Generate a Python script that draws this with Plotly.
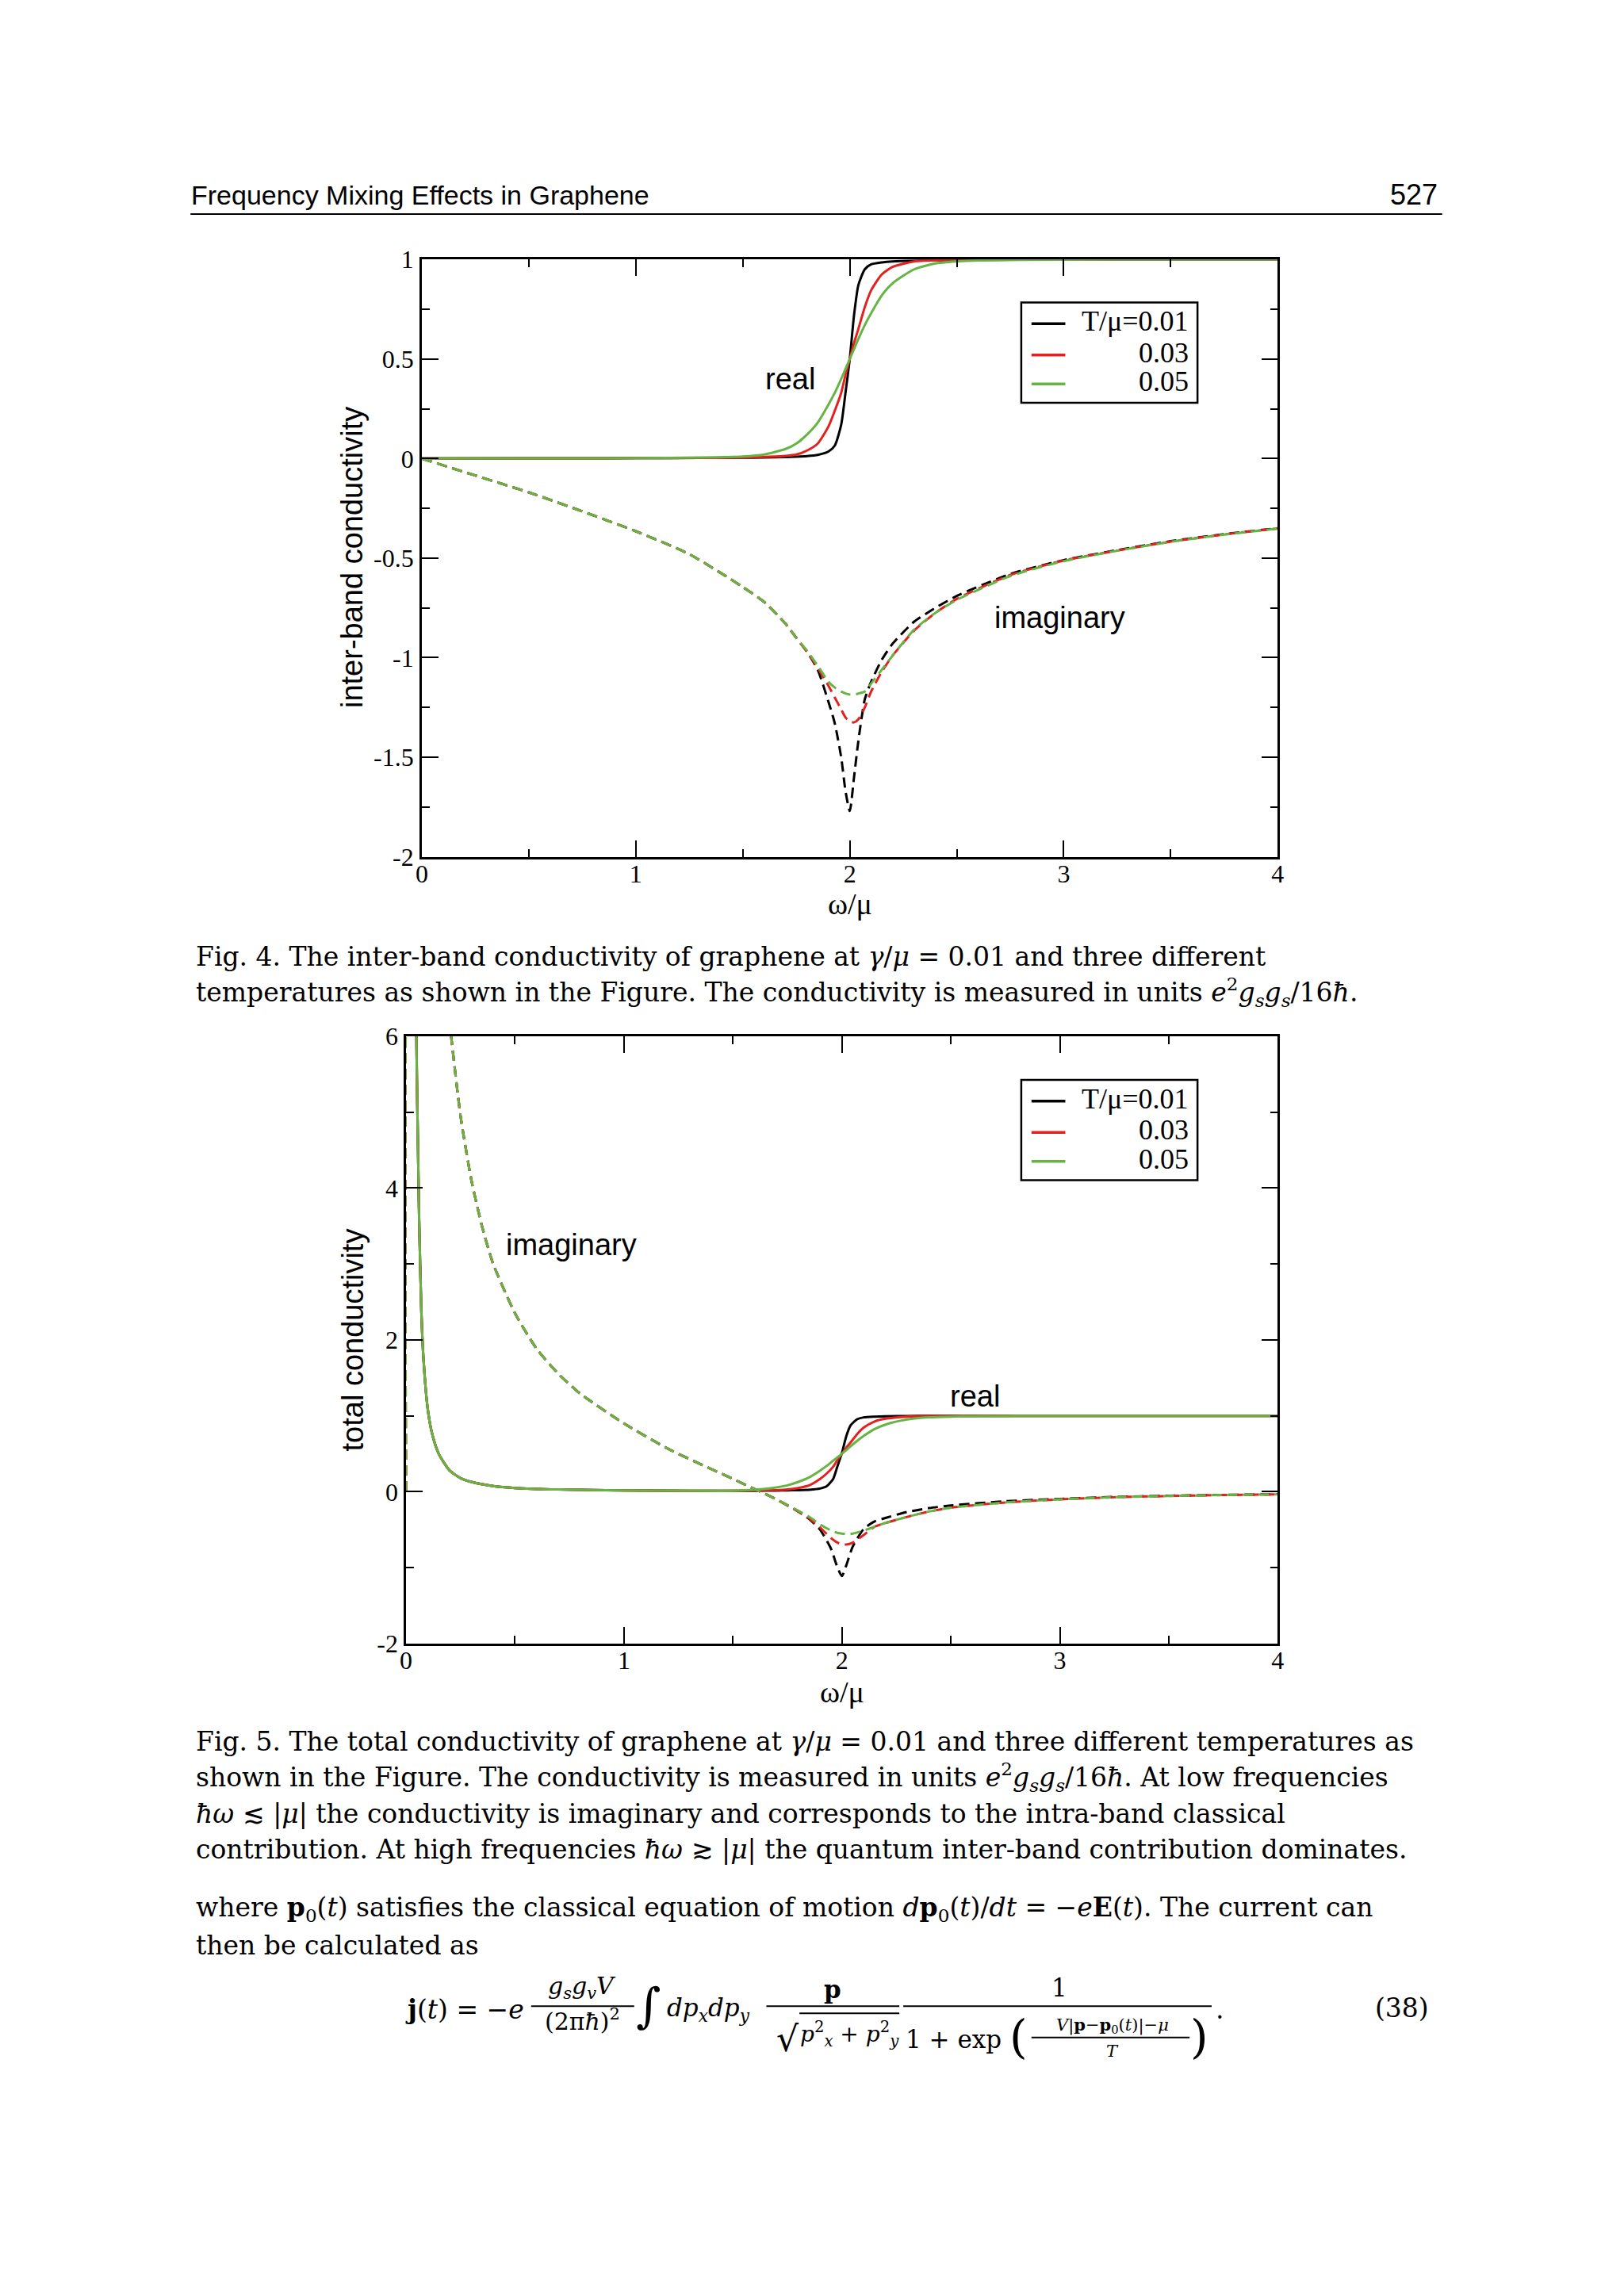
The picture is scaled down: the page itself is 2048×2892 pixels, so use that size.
import plotly.graph_objects as go

w_re = [0.0, 0.5, 1.0, 1.3, 1.5, 1.6, 1.7, 1.75, 1.8, 1.85, 1.9, 1.93, 1.96, 1.98, 2.0,
        2.02, 2.04, 2.07, 2.1, 2.15, 2.2, 2.3, 2.4, 2.5, 2.6, 3.0, 3.5, 4.0]
w_im = [0.0, 0.25, 0.5, 0.75, 1.0, 1.25, 1.5, 1.6, 1.7, 1.75, 1.8, 1.85, 1.9, 1.93, 1.96, 1.98,
        2.0, 2.02, 2.04, 2.07, 2.1, 2.15, 2.2, 2.3, 2.4, 2.5, 2.75, 3.0, 3.25, 3.5, 3.75, 4.0]

# Fig. 4: inter-band conductivity
re_inter_001 = [0, 0.001, 0.002, 0.003, 0.004, 0.005, 0.007, 0.009, 0.012, 0.018, 0.035, 0.065, 0.17, 0.33,
                0.5, 0.72, 0.87, 0.95, 0.975, 0.985, 0.99, 0.994, 0.996, 0.997, 0.998, 0.999, 1.0, 1.0]
re_inter_003 = [0, 0.001, 0.002, 0.003, 0.005, 0.008, 0.013, 0.02, 0.04, 0.075, 0.16, 0.24, 0.33, 0.42,
                0.5, 0.58, 0.65, 0.76, 0.845, 0.925, 0.962, 0.99, 0.995, 0.997, 0.998, 0.999, 1.0, 1.0]
re_inter_005 = [0, 0.001, 0.002, 0.005, 0.01, 0.02, 0.048, 0.075, 0.12, 0.18, 0.27, 0.33, 0.40, 0.45,
                0.5, 0.55, 0.6, 0.67, 0.73, 0.82, 0.88, 0.95, 0.98, 0.99, 0.995, 0.999, 1.0, 1.0]

im_inter_001 = [0, -0.085, -0.17, -0.265, -0.365, -0.48, -0.645, -0.72, -0.83, -0.9, -0.97, -1.06, -1.22,
                -1.33, -1.5, -1.67, -1.77, -1.6, -1.42, -1.21, -1.12, -1.01, -0.93, -0.82, -0.75, -0.69,
                -0.58, -0.51, -0.46, -0.415, -0.38, -0.35]
im_inter_003 = [0, -0.085, -0.17, -0.265, -0.365, -0.48, -0.645, -0.72, -0.83, -0.9, -0.97, -1.05, -1.14,
                -1.2, -1.26, -1.3, -1.32, -1.325, -1.31, -1.25, -1.17, -1.07, -0.99, -0.865, -0.775, -0.705,
                -0.585, -0.512, -0.462, -0.417, -0.381, -0.351]
im_inter_005 = [0, -0.085, -0.17, -0.265, -0.365, -0.48, -0.645, -0.72, -0.83, -0.9, -0.965, -1.04, -1.12,
                -1.15, -1.17, -1.18, -1.185, -1.185, -1.18, -1.17, -1.13, -1.06, -0.99, -0.86, -0.775, -0.71,
                -0.59, -0.515, -0.463, -0.418, -0.382, -0.352]

# Fig. 5: total conductivity
w2_re = [0.035, 0.04, 0.045, 0.05, 0.055, 0.06, 0.07, 0.08, 0.1, 0.12, 0.15, 0.2, 0.25, 0.3, 0.4, 0.5,
         0.7, 1.0, 1.3, 1.5, 1.6, 1.7, 1.75, 1.8, 1.85, 1.9, 1.93, 1.96, 1.98, 2.0, 2.02, 2.04, 2.07,
         2.1, 2.15, 2.2, 2.3, 2.4, 2.5, 2.6, 3.0, 3.5, 4.0]
w2_im = [0.0, 0.003, 0.1, 0.15, 0.2, 0.21, 0.25, 0.3, 0.35, 0.4, 0.5, 0.6, 0.7, 0.8, 1.0, 1.2, 1.4,
         1.5, 1.6, 1.65, 1.7, 1.8, 1.85, 1.9, 1.95, 1.98, 2.0, 2.02, 2.05, 2.1, 2.15, 2.2, 2.3, 2.4,
         2.5, 2.75, 3.0, 3.25, 3.5, 3.75, 4.0]

re_total_001 = [9.5, 8.0, 6.6, 5.4, 4.5, 3.6, 2.4, 1.75, 1.08, 0.76, 0.5, 0.28, 0.18, 0.13, 0.075, 0.05,
                0.03, 0.018, 0.013, 0.012, 0.014, 0.016, 0.018, 0.021, 0.027, 0.043, 0.072, 0.17, 0.34,
                0.51, 0.73, 0.875, 0.955, 0.98, 0.99, 0.995, 0.998, 0.999, 1.0, 1.0, 1.0, 1.0, 1.0]
re_total_003 = [9.5, 8.0, 6.6, 5.4, 4.5, 3.6, 2.4, 1.75, 1.08, 0.76, 0.5, 0.28, 0.18, 0.13, 0.075, 0.05,
                0.03, 0.018, 0.013, 0.012, 0.018, 0.022, 0.03, 0.05, 0.085, 0.17, 0.24, 0.33, 0.42,
                0.5, 0.58, 0.65, 0.76, 0.845, 0.925, 0.962, 0.99, 0.996, 0.998, 1.0, 1.0, 1.0, 1.0]
re_total_005 = [9.5, 8.0, 6.6, 5.4, 4.5, 3.6, 2.4, 1.75, 1.08, 0.76, 0.5, 0.28, 0.18, 0.13, 0.075, 0.05,
                0.03, 0.018, 0.013, 0.012, 0.028, 0.058, 0.085, 0.13, 0.19, 0.28, 0.34, 0.41, 0.455,
                0.5, 0.55, 0.6, 0.67, 0.735, 0.825, 0.885, 0.952, 0.98, 0.99, 0.995, 1.0, 1.0, 1.0]

im_total_001 = [0, 7.0, 12.5, 8.3, 6.2, 5.92, 4.95, 4.1, 3.48, 3.0, 2.35, 1.88, 1.55, 1.29, 0.9, 0.57,
                0.3, 0.17, 0.035, -0.03, -0.1, -0.26, -0.36, -0.5, -0.75, -1.0, -1.11, -0.97, -0.72,
                -0.49, -0.39, -0.345, -0.265, -0.215, -0.18, -0.125, -0.093, -0.068, -0.052, -0.041, -0.032]
im_total_003 = [0, 7.0, 12.5, 8.3, 6.2, 5.92, 4.95, 4.1, 3.48, 3.0, 2.35, 1.88, 1.55, 1.29, 0.9, 0.57,
                0.3, 0.17, 0.035, -0.03, -0.1, -0.26, -0.35, -0.47, -0.61, -0.67, -0.69, -0.695, -0.67,
                -0.57, -0.46, -0.41, -0.33, -0.26, -0.21, -0.14, -0.1, -0.072, -0.055, -0.043, -0.034]
im_total_005 = [0, 7.0, 12.5, 8.3, 6.2, 5.92, 4.95, 4.1, 3.48, 3.0, 2.35, 1.88, 1.55, 1.29, 0.9, 0.57,
                0.3, 0.17, 0.035, -0.03, -0.1, -0.25, -0.33, -0.43, -0.51, -0.54, -0.55, -0.555, -0.55,
                -0.51, -0.46, -0.41, -0.33, -0.26, -0.21, -0.14, -0.1, -0.072, -0.055, -0.043, -0.034]

temp_labels = ["T/μ=0.01", "0.03", "0.05"]
colors = ["#000000", "#e3211f", "#66b444"]

x_ticks = [0, 1, 2, 3, 4]
y1_ticks = [1, 0.5, 0, -0.5, -1, -1.5, -2]
y1_text = ["1", "0.5", "0", "-0.5", "-1", "-1.5", "-2"]
y2_ticks = [6, 4, 2, 0, -2]
y2_text = ["6", "4", "2", "0", "-2"]

# the page keeps its default 8px body margin, so the figure is 16px smaller than the window
PAD = 8
W, H = 2048 - 2 * PAD, 2892 - 2 * PAD
SERIF = "Liberation Serif"
BOOK = "DejaVu Serif"
SANS = "Liberation Sans"


def px(x):
    return (x - PAD) / W


def py(y):
    return 1 - (y - PAD) / H


fig = go.Figure()

# Fig. 4 curves
for re_vals, im_vals, col, lab in zip([re_inter_001, re_inter_003, re_inter_005],
                                      [im_inter_001, im_inter_003, im_inter_005], colors, temp_labels):
    fig.add_trace(go.Scatter(x=w_re, y=re_vals, mode="lines", name=lab, showlegend=False,
                             line=dict(color=col, width=3, shape="spline", smoothing=0.6),
                             xaxis="x", yaxis="y"))
    fig.add_trace(go.Scatter(x=w_im, y=im_vals, mode="lines", showlegend=False,
                             line=dict(color=col, width=3, dash="13px,7px", shape="spline", smoothing=0.6),
                             xaxis="x", yaxis="y"))

# Fig. 5 curves
for re_vals, im_vals, col, lab in zip([re_total_001, re_total_003, re_total_005],
                                      [im_total_001, im_total_003, im_total_005], colors, temp_labels):
    fig.add_trace(go.Scatter(x=w2_re, y=re_vals, mode="lines", name=lab, showlegend=False,
                             line=dict(color=col, width=3, shape="spline", smoothing=0.6),
                             xaxis="x2", yaxis="y2"))
    fig.add_trace(go.Scatter(x=w2_im, y=im_vals, mode="lines", showlegend=False,
                             line=dict(color=col, width=3, dash="13px,7px", shape="spline", smoothing=0.6),
                             xaxis="x2", yaxis="y2"))

axis_common = dict(showline=True, linecolor="black", linewidth=2.5, mirror="allticks",
                   ticks="inside", ticklen=21, tickwidth=2, tickcolor="black",
                   showgrid=False, zeroline=False,
                   tickfont=dict(family=SERIF, size=32, color="black"))

fig.update_layout(
    width=W, height=H, autosize=False,
    margin=dict(l=0, r=0, t=0, b=0),
    paper_bgcolor="white", plot_bgcolor="white",
    showlegend=False,
    xaxis=dict(domain=[px(528), px(1616)], range=[0, 4], tickvals=x_ticks, anchor="y",
               minor=dict(dtick=0.5, ticklen=10, tickwidth=2, tickcolor="black", ticks="inside"),
               **axis_common),
    yaxis=dict(domain=[py(1076), py(313)], range=[-2, 1], tickvals=y1_ticks, ticktext=y1_text, anchor="x",
               minor=dict(dtick=0.25, ticklen=10, tickwidth=2, tickcolor="black", ticks="inside"),
               ticklabelstandoff=1, **axis_common),
    xaxis2=dict(domain=[px(508), px(1616)], range=[0, 4], tickvals=x_ticks, anchor="y2",
                minor=dict(dtick=0.5, ticklen=10, tickwidth=2, tickcolor="black", ticks="inside"),
                **axis_common),
    yaxis2=dict(domain=[py(2081), py(1305)], range=[-2, 6], tickvals=y2_ticks, ticktext=y2_text, anchor="x2",
                minor=dict(dtick=1, ticklen=10, tickwidth=2, tickcolor="black", ticks="inside"),
                ticklabelstandoff=1, **axis_common),
)
try:
    fig.update_xaxes(ticklabelstandoff=-9)
except ValueError:
    fig.update_xaxes(ticklabelstandoff=0)

ann = []


def text(x, y, s, size=33, family=BOOK, xanchor="left", angle=0, xref="paper", yref="paper"):
    ann.append(dict(x=x, y=y, xref=xref, yref=yref, text=s, showarrow=False, xanchor=xanchor,
                    yanchor="middle", textangle=angle, borderpad=0,
                    font=dict(family=family, size=size, color="black")))


# page header
text(px(234), py(231), "Frequency Mixing Effects in Graphene", size=34, family=SANS)
text(px(1820), py(230), "527", size=36, family=SANS, xanchor="right")

# axis titles and curve labels
text(px(440), py(694), "inter-band conductivity", size=38, family=SANS, xanchor="center", angle=-90)
text(px(440), py(1693), "total conductivity", size=38, family=SANS, xanchor="center", angle=-90)
text(px(1072), py(1136), "ω/μ", size=38, family=SERIF, xanchor="center")
text(px(1062), py(2143), "ω/μ", size=38, family=SERIF, xanchor="center")
text(1.72, 0.40, "real", size=38, family=SANS, xanchor="center", xref="x", yref="y")
text(2.98, -0.80, "imaginary", size=38, family=SANS, xanchor="center", xref="x", yref="y")
text(0.76, 3.25, "imaginary", size=38, family=SANS, xanchor="center", xref="x2", yref="y2")
text(2.61, 1.26, "real", size=38, family=SANS, xanchor="center", xref="x2", yref="y2")

# legends: boxes, key lines and right-aligned labels
shapes = []
for top in (368, 1361):
    shapes.append(dict(type="rect", xref="paper", yref="paper", x0=px(1290), x1=px(1514),
                       y0=py(top), y1=py(top + 128), line=dict(color="black", width=2.5),
                       fillcolor="white", layer="above"))
    for k, (col, lab) in enumerate(zip(colors, temp_labels)):
        yk = top + [27, 67, 104][k]
        shapes.append(dict(type="line", xref="paper", yref="paper", x0=px(1303), x1=px(1346),
                           y0=py(yk), y1=py(yk), line=dict(color=col, width=3.5), layer="above"))
        text(px(1504), py(yk - 3), lab, size=36, family=SERIF, xanchor="right")

# captions
units = "<i>e</i><sup>2</sup><i>g<sub>s</sub>g<sub>s</sub></i>/16<i>ħ</i>."
cap4 = ["Fig. 4. The inter-band conductivity of graphene at <i>γ</i>/<i>μ</i> = 0.01 and three different",
        "temperatures as shown in the Figure. The conductivity is measured in units " + units]
cap5 = ["Fig. 5. The total conductivity of graphene at <i>γ</i>/<i>μ</i> = 0.01 and three different temperatures as",
        "shown in the Figure. The conductivity is measured in units " + units + " At low frequencies",
        "<i>ħω</i> ≲ |<i>μ</i>| the conductivity is imaginary and corresponds to the intra-band classical",
        "contribution. At high frequencies <i>ħω</i> ≳ |<i>μ</i>| the quantum inter-band contribution dominates."]
for i, line in enumerate(cap4):
    text(px(240), py(1203 + 46 * i), line)
for i, line in enumerate(cap5):
    text(px(240), py(2206 + 46 * i), line)

text(px(240), py(2420), "where <b>p</b><sub>0</sub>(<i>t</i>) satisfies the classical equation of motion "
     "<i>d</i><b>p</b><sub>0</sub>(<i>t</i>)/<i>dt</i> = −<i>e</i><b>E</b>(<i>t</i>). The current can")
text(px(240), py(2466), "then be calculated as")

# equation (38)
text(px(506), py(2548), "<b>j</b>(<i>t</i>) = −<i>e</i>")
text(px(732), py(2520), "<i>g<sub>s</sub>g<sub>v</sub>V</i>", size=30, xanchor="center")
text(px(732), py(2561), "(2π<i>ħ</i>)<sup>2</sup>", size=30, xanchor="center")
text(px(816), py(2543), "∫", size=60, xanchor="center")
text(px(839), py(2548), "<i>dp<sub>x</sub>dp<sub>y</sub></i>", size=31)
text(px(1050), py(2522), "<b>p</b>", size=31, xanchor="center")
text(px(993), py(2586), "√", size=44, xanchor="center")
text(px(1072), py(2580), "<i>p</i><sup>2</sup><sub><i>x</i></sub> + <i>p</i><sup>2</sup><sub><i>y</i></sub>",
     size=28, xanchor="center")
text(px(1338), py(2520), "1", size=31, xanchor="center")
text(px(1142), py(2586), "1 + exp", size=31)
text(px(1287), py(2583), "(", size=58, xanchor="center")
text(px(1406), py(2569), "<i>V</i>|<b>p</b>−<b>p</b><sub>0</sub>(<i>t</i>)|−<i>μ</i>", size=21, xanchor="center")
text(px(1406), py(2601), "<i>T</i>", size=21, xanchor="center")
text(px(1516), py(2583), ")", size=58, xanchor="center")
text(px(1543), py(2548), ".", size=33, xanchor="center")
text(px(1809), py(2546), "(38)", size=33, xanchor="right")

rule = dict(type="line", xref="paper", yref="paper", line=dict(color="black", width=2))
shapes += [
    dict(rule, x0=px(234), x1=px(1825), y0=py(255), y1=py(255)),
    dict(rule, x0=px(667), x1=px(798), y0=py(2544), y1=py(2544)),
    dict(rule, x0=px(966), x1=px(1135), y0=py(2544), y1=py(2544)),
    dict(rule, x0=px(1008), x1=px(1135), y0=py(2553), y1=py(2553)),
    dict(rule, x0=px(1140), x1=px(1532), y0=py(2544), y1=py(2544)),
    dict(rule, x0=px(1303), x1=px(1504), y0=py(2584), y1=py(2584)),
]

fig.update_layout(annotations=ann, shapes=shapes)

fig.write_html("out.html", config={"displayModeBar": False})
